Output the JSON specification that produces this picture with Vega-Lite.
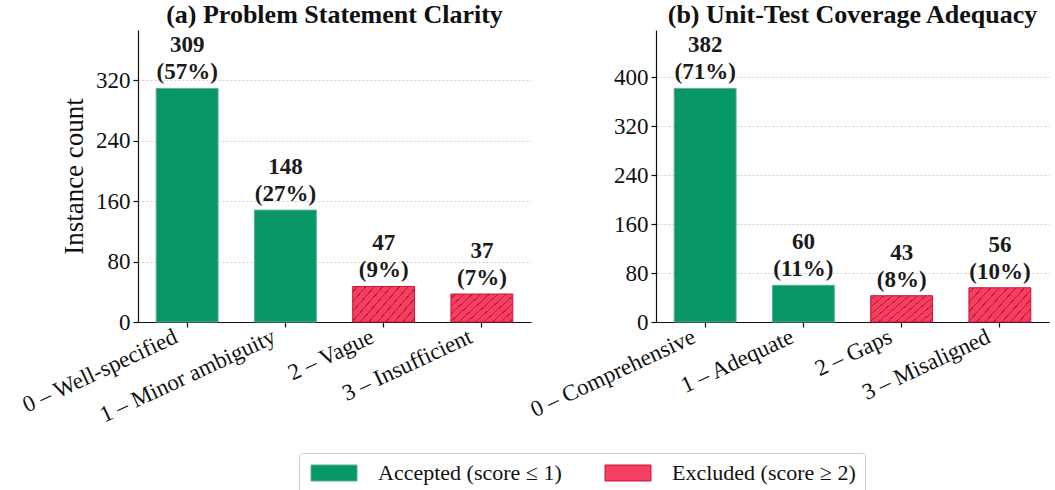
{
  "$schema": "https://vega.github.io/schema/vega-lite/v6.json",
  "datasets": {
    "a": [
      {"cat": "0 – Well-specified", "count": 309, "label": ["309", "(57%)"], "status": "Accepted (score ≤ 1)"},
      {"cat": "1 – Minor ambiguity", "count": 148, "label": ["148", "(27%)"], "status": "Accepted (score ≤ 1)"},
      {"cat": "2 – Vague", "count": 47, "label": ["47", "(9%)"], "status": "Excluded (score ≥ 2)"},
      {"cat": "3 – Insufficient", "count": 37, "label": ["37", "(7%)"], "status": "Excluded (score ≥ 2)"}
    ],
    "b": [
      {"cat": "0 – Comprehensive", "count": 382, "label": ["382", "(71%)"], "status": "Accepted (score ≤ 1)"},
      {"cat": "1 – Adequate", "count": 60, "label": ["60", "(11%)"], "status": "Accepted (score ≤ 1)"},
      {"cat": "2 – Gaps", "count": 43, "label": ["43", "(8%)"], "status": "Excluded (score ≥ 2)"},
      {"cat": "3 – Misaligned", "count": 56, "label": ["56", "(10%)"], "status": "Excluded (score ≥ 2)"}
    ]
  },
  "padding": {"left": 18, "top": 2, "right": 4, "bottom": 0},
  "spacing": 125,
  "bounds": "flush",
  "resolve": {"scale": {"fill": "shared", "stroke": "shared"}, "legend": {"fill": "shared", "stroke": "shared"}},
  "config": {
    "font": "Liberation Serif",
    "view": {"stroke": null},
    "title": {"fontSize": 26, "fontWeight": "bold", "color": "#111111", "offset": 2, "anchor": "middle"},
    "axis": {"domainColor": "#111111", "tickColor": "#111111", "labelColor": "#111111", "titleColor": "#111111", "labelFontSize": 23, "tickSize": 5, "domainWidth": 1.2, "tickWidth": 1.2},
    "axisX": {"labelAngle": -25, "labelAlign": "right", "labelBaseline": "bottom", "labelFontSize": 23, "labelLimit": 0, "labelOffset": -6, "title": null, "grid": false, "labelPadding": 19},
    "axisY": {"grid": true, "gridDash": [2, 2], "gridColor": "#c4c4c4", "gridWidth": 0.8, "titleFontSize": 27, "titleFontWeight": "normal", "titlePadding": 7, "labelPadding": 3},
    "legend": {
      "orient": "none", "legendX": 161, "legendY": 423, "direction": "horizontal", "title": null,
      "labelFontSize": 22, "labelLimit": 0, "labelColor": "#111111", "labelOffset": 33, "columnPadding": 40,
      "symbolType": "M-2.875,-1H2.875V1H-2.875Z", "symbolSize": 256, "symbolOffset": 15, "symbolStrokeWidth": 1, "symbolOpacity": 1,
      "strokeColor": "#cccccc", "cornerRadius": 3, "padding": 9
    }
  },
  "hconcat": [
    {
      "width": 393, "height": 292,
      "data": {"name": "a"},
      "title": "(a) Problem Statement Clarity",
      "encoding": {
        "x": {"field": "cat", "type": "nominal", "sort": null, "scale": {"paddingInner": 0.37, "paddingOuter": 0.185}},
        "y": {"field": "count", "type": "quantitative", "scale": {"domain": [0, 386.25], "nice": false}, "axis": {"values": [0, 80, 160, 240, 320], "title": "Instance count"}}
      },
      "layer": [
        {
          "mark": {"type": "bar", "strokeWidth": 1, "opacity": 1},
          "encoding": {
            "fill": {"field": "status", "type": "nominal", "scale": {"domain": ["Accepted (score ≤ 1)", "Excluded (score ≥ 2)"], "range": ["#079668", "#f43f5e"]},
              "condition": {"test": "indexof(datum.status, 'Excluded') === 0", "value": {"gradient": "linear", "x1": 0, "y1": 0, "x2": 1.2, "y2": 0.6, "stops": [
              {"offset": 0, "color": "#f43f5e"},
              {"offset": 0.045, "color": "#f43f5e"}, {"offset": 0.045, "color": "#c0183c"}, {"offset": 0.059, "color": "#c0183c"}, {"offset": 0.059, "color": "#f43f5e"},
              {"offset": 0.136, "color": "#f43f5e"}, {"offset": 0.136, "color": "#c0183c"}, {"offset": 0.150, "color": "#c0183c"}, {"offset": 0.150, "color": "#f43f5e"},
              {"offset": 0.227, "color": "#f43f5e"}, {"offset": 0.227, "color": "#c0183c"}, {"offset": 0.241, "color": "#c0183c"}, {"offset": 0.241, "color": "#f43f5e"},
              {"offset": 0.318, "color": "#f43f5e"}, {"offset": 0.318, "color": "#c0183c"}, {"offset": 0.332, "color": "#c0183c"}, {"offset": 0.332, "color": "#f43f5e"},
              {"offset": 0.409, "color": "#f43f5e"}, {"offset": 0.409, "color": "#c0183c"}, {"offset": 0.423, "color": "#c0183c"}, {"offset": 0.423, "color": "#f43f5e"},
              {"offset": 0.500, "color": "#f43f5e"}, {"offset": 0.500, "color": "#c0183c"}, {"offset": 0.514, "color": "#c0183c"}, {"offset": 0.514, "color": "#f43f5e"},
              {"offset": 0.591, "color": "#f43f5e"}, {"offset": 0.591, "color": "#c0183c"}, {"offset": 0.605, "color": "#c0183c"}, {"offset": 0.605, "color": "#f43f5e"},
              {"offset": 0.682, "color": "#f43f5e"}, {"offset": 0.682, "color": "#c0183c"}, {"offset": 0.696, "color": "#c0183c"}, {"offset": 0.696, "color": "#f43f5e"},
              {"offset": 0.773, "color": "#f43f5e"}, {"offset": 0.773, "color": "#c0183c"}, {"offset": 0.787, "color": "#c0183c"}, {"offset": 0.787, "color": "#f43f5e"},
              {"offset": 0.864, "color": "#f43f5e"}, {"offset": 0.864, "color": "#c0183c"}, {"offset": 0.878, "color": "#c0183c"}, {"offset": 0.878, "color": "#f43f5e"},
              {"offset": 0.955, "color": "#f43f5e"}, {"offset": 0.955, "color": "#c0183c"}, {"offset": 0.969, "color": "#c0183c"}, {"offset": 0.969, "color": "#f43f5e"},
              {"offset": 1, "color": "#f43f5e"}
            ]}}},
            "stroke": {"field": "status", "type": "nominal", "scale": {"domain": ["Accepted (score ≤ 1)", "Excluded (score ≥ 2)"], "range": ["#5fae92", "#c8163e"]}}
          }
        },
        {
          "mark": {"type": "text", "align": "center", "baseline": "bottom", "dy": -31, "fontSize": 23, "fontWeight": "bold", "lineHeight": 27, "color": "#1a1a1a"},
          "encoding": {"text": {"field": "label"}}
        }
      ]
    },
    {
      "width": 393, "height": 292,
      "data": {"name": "b"},
      "title": "(b) Unit-Test Coverage Adequacy",
      "encoding": {
        "x": {"field": "cat", "type": "nominal", "sort": null, "scale": {"paddingInner": 0.37, "paddingOuter": 0.185}},
        "y": {"field": "count", "type": "quantitative", "scale": {"domain": [0, 477.5], "nice": false}, "axis": {"values": [0, 80, 160, 240, 320, 400], "title": null}}
      },
      "layer": [
        {
          "mark": {"type": "bar", "strokeWidth": 1, "opacity": 1},
          "encoding": {
            "fill": {"field": "status", "type": "nominal", "scale": {"domain": ["Accepted (score ≤ 1)", "Excluded (score ≥ 2)"], "range": ["#079668", "#f43f5e"]},
              "condition": {"test": "indexof(datum.status, 'Excluded') === 0", "value": {"gradient": "linear", "x1": 0, "y1": 0, "x2": 1.2, "y2": 0.6, "stops": [
              {"offset": 0, "color": "#f43f5e"},
              {"offset": 0.045, "color": "#f43f5e"}, {"offset": 0.045, "color": "#c0183c"}, {"offset": 0.059, "color": "#c0183c"}, {"offset": 0.059, "color": "#f43f5e"},
              {"offset": 0.136, "color": "#f43f5e"}, {"offset": 0.136, "color": "#c0183c"}, {"offset": 0.150, "color": "#c0183c"}, {"offset": 0.150, "color": "#f43f5e"},
              {"offset": 0.227, "color": "#f43f5e"}, {"offset": 0.227, "color": "#c0183c"}, {"offset": 0.241, "color": "#c0183c"}, {"offset": 0.241, "color": "#f43f5e"},
              {"offset": 0.318, "color": "#f43f5e"}, {"offset": 0.318, "color": "#c0183c"}, {"offset": 0.332, "color": "#c0183c"}, {"offset": 0.332, "color": "#f43f5e"},
              {"offset": 0.409, "color": "#f43f5e"}, {"offset": 0.409, "color": "#c0183c"}, {"offset": 0.423, "color": "#c0183c"}, {"offset": 0.423, "color": "#f43f5e"},
              {"offset": 0.500, "color": "#f43f5e"}, {"offset": 0.500, "color": "#c0183c"}, {"offset": 0.514, "color": "#c0183c"}, {"offset": 0.514, "color": "#f43f5e"},
              {"offset": 0.591, "color": "#f43f5e"}, {"offset": 0.591, "color": "#c0183c"}, {"offset": 0.605, "color": "#c0183c"}, {"offset": 0.605, "color": "#f43f5e"},
              {"offset": 0.682, "color": "#f43f5e"}, {"offset": 0.682, "color": "#c0183c"}, {"offset": 0.696, "color": "#c0183c"}, {"offset": 0.696, "color": "#f43f5e"},
              {"offset": 0.773, "color": "#f43f5e"}, {"offset": 0.773, "color": "#c0183c"}, {"offset": 0.787, "color": "#c0183c"}, {"offset": 0.787, "color": "#f43f5e"},
              {"offset": 0.864, "color": "#f43f5e"}, {"offset": 0.864, "color": "#c0183c"}, {"offset": 0.878, "color": "#c0183c"}, {"offset": 0.878, "color": "#f43f5e"},
              {"offset": 0.955, "color": "#f43f5e"}, {"offset": 0.955, "color": "#c0183c"}, {"offset": 0.969, "color": "#c0183c"}, {"offset": 0.969, "color": "#f43f5e"},
              {"offset": 1, "color": "#f43f5e"}
            ]}}},
            "stroke": {"field": "status", "type": "nominal", "scale": {"domain": ["Accepted (score ≤ 1)", "Excluded (score ≥ 2)"], "range": ["#5fae92", "#c8163e"]}}
          }
        },
        {
          "mark": {"type": "text", "align": "center", "baseline": "bottom", "dy": -31, "fontSize": 23, "fontWeight": "bold", "lineHeight": 27, "color": "#1a1a1a"},
          "encoding": {"text": {"field": "label"}}
        }
      ]
    }
  ]
}
